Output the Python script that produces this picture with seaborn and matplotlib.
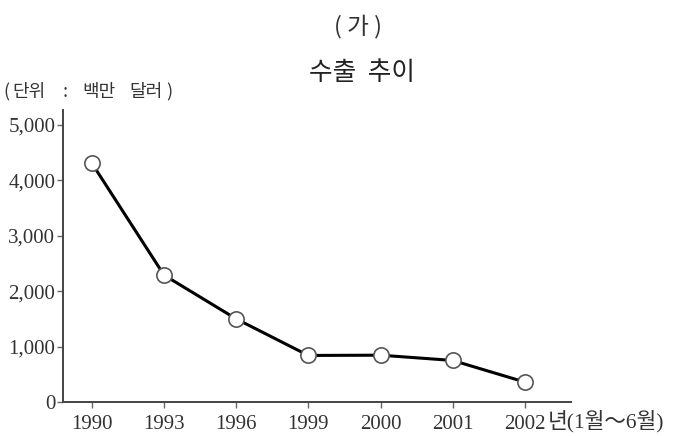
import matplotlib
matplotlib.use("Agg")
import matplotlib.pyplot as plt
import matplotlib.transforms as mtransforms
import seaborn as sns
import pandas as pd

# Export values, million US dollars (2002 covers January-June only)
years = ["1990", "1993", "1996", "1999", "2000", "2001", "2002"]
exports = [4310, 2290, 1500, 840, 845, 750, 360]
y_ticks = [0, 1000, 2000, 3000, 4000, 5000]
y_tick_labels = ["0", "1,000", "2,000", "3,000", "4,000", "5,000"]

sns.set_theme(style="white")
plt.rcParams["font.family"] = ["Liberation Serif", "Noto Sans CJK KR"]

df = pd.DataFrame({"year": years, "exports": exports})

W, H = 676, 436
fig = plt.figure(figsize=(W / 100, H / 100), dpi=100)
ax = fig.add_axes([63 / W, 1 - 402 / H, 508 / W, 292 / H])

sns.lineplot(
    data=df, x="year", y="exports", ax=ax,
    color="black", linewidth=2.2, sort=False,
    marker="o", markersize=11, markerfacecolor="white",
    markeredgecolor="#555555", markeredgewidth=1.2,
)

ax.set_xlim(-0.40, 6.64)
ax.set_ylim(0, 5270)
ax.set_yticks(y_ticks)
ax.set_yticklabels(y_tick_labels)
ax.set_xlabel("")
ax.set_ylabel("")

for side in ("top", "right"):
    ax.spines[side].set_visible(False)
for side in ("left", "bottom"):
    ax.spines[side].set_color("#444444")
    ax.spines[side].set_linewidth(1.4)

ax.tick_params(axis="both", which="major", direction="out", length=4,
               width=1.0, color="#666666", labelsize=15, labelcolor="#333333")
ax.tick_params(axis="x", bottom=True, pad=5)
ax.tick_params(axis="y", left=True, pad=1.5)

# Suffix for the last (partial-year) category, placed right after "2002"
px_per_unit = 508 / (6.64 + 0.40)
x0_px = 63 + 0.40 * px_per_unit
trans = mtransforms.blended_transform_factory(ax.transData, ax.transAxes)
ax.text((548 - x0_px) / px_per_unit, -19 / 292, "년(1월～6월)",
        transform=trans, ha="left", va="center", fontsize=15.5,
        color="#333333", family=["Liberation Serif", "Noto Sans CJK KR"])

# Headings
def px_text(x, y, s, **kw):
    fig.text(x / W, 1 - y / H, s, **kw)

px_text(358, 26, "( 가 )", ha="center", va="center", fontsize=17,
        color="#333333", family=["Noto Sans CJK KR"])
px_text(362, 73, "수출  추이", ha="center", va="center", fontsize=18.5,
        color="#222222", family=["Noto Sans CJK KR"])

# Unit note, spaced out like a typeset caption
unit_kw = dict(ha="left", va="center", fontsize=13, color="#333333",
               family=["Noto Sans CJK KR"])
px_text(3, 92, "(", **unit_kw)
px_text(12, 92, "단위", **unit_kw)
px_text(63, 92, ":", **unit_kw)
px_text(82, 92, "백만", **unit_kw)
px_text(129, 92, "달러", **unit_kw)
px_text(166, 92, ")", **unit_kw)

fig.savefig("out.png", dpi=100, facecolor="white")
